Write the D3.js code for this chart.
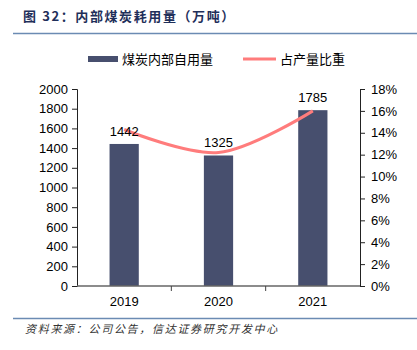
<!DOCTYPE html>
<html>
<head>
<meta charset="utf-8">
<script src="https://cdn.jsdelivr.net/npm/d3@7"></script>
<style>
body { margin: 0; background: #fff; }
text { font-family: "Liberation Sans", Arial, sans-serif; }
.cjk { font-family: "Noto Sans CJK SC", sans-serif; }
</style>
</head>
<body>
<div id="chart"></div>
<script>
{
const years = ['2019', '2020', '2021'];
const usage = [1442, 1325, 1785];
const share = [0.143, 0.122, 0.160];
const leftTicks = [0, 200, 400, 600, 800, 1000, 1200, 1400, 1600, 1800, 2000];
const rightTicks = [0, 0.02, 0.04, 0.06, 0.08, 0.10, 0.12, 0.14, 0.16, 0.18];

const width = 417;
const height = 350;
const margin = {top: 89, right: 57, bottom: 64, left: 77};

let svg = d3.select('#chart')
    .append('svg')
    .attr('width', width)
    .attr('height', height);

// title + rules
svg.append('text')
    .attr('class', 'cjk')
    .attr('x', 23).attr('y', 21)
    .style('font-size', '13px')
    .style('font-weight', 'bold')
    .style('letter-spacing', '1.6px')
    .style('fill', '#1f2f5a')
    .text('图 32：内部煤炭耗用量（万吨）');
svg.append('line')
    .attr('x1', 13).attr('x2', 417).attr('y1', 33.5).attr('y2', 33.5)
    .style('stroke', '#6b8bb3').style('stroke-width', 1.5);
svg.append('line')
    .attr('x1', 13).attr('x2', 417).attr('y1', 318.5).attr('y2', 318.5)
    .style('stroke', '#6b8bb3').style('stroke-width', 1.5);
svg.append('text')
    .attr('class', 'cjk')
    .attr('x', 25).attr('y', 333)
    .style('font-size', '11px')
    .style('font-style', 'italic')
    .style('letter-spacing', '1.7px')
    .style('fill', '#333')
    .text('资料来源：公司公告，信达证券研究开发中心');

let x = d3.scaleBand()
    .domain(years)
    .range([margin.left, width - margin.right])
    .paddingInner(0.69)
    .paddingOuter(0.345);

let y = d3.scaleLinear()
    .domain([0, 2000])
    .range([height - margin.bottom, margin.top]);

let y2 = d3.scaleLinear()
    .domain([0, 0.18])
    .range([height - margin.bottom, margin.top]);

// bars
svg.selectAll('rect.bar').data(usage)
    .enter().append('rect')
    .attr('class', 'bar')
    .attr('x', (d, i) => x(years[i]))
    .attr('y', d => y(d))
    .attr('width', x.bandwidth())
    .attr('height', d => y(0) - y(d))
    .style('fill', '#474f6e');

// left axis
let leftAxis = svg.append('g')
    .attr('transform', `translate(${margin.left},0)`)
    .call(d3.axisLeft(y).tickValues(leftTicks).tickSize(5).tickSizeOuter(5).tickPadding(4)
        .tickFormat(d3.format('d')));
// right axis
let rightAxis = svg.append('g')
    .attr('transform', `translate(${width - margin.right},0)`)
    .call(d3.axisRight(y2).tickValues(rightTicks).tickSize(5).tickSizeOuter(5).tickPadding(6)
        .tickFormat(d => Math.round(d * 100) + '%'));
[leftAxis, rightAxis].forEach(a => {
    a.selectAll('text').style('font-size', '13px').style('fill', '#000')
        .style('font-family', '"Liberation Sans", Arial, sans-serif');
    a.selectAll('line, path').style('stroke', '#222');
});

// bottom axis with ticks between categories
let xBoundaries = d3.scaleLinear().domain([0, 3]).range([margin.left, width - margin.right]);
svg.append('line')
    .attr('x1', margin.left).attr('x2', width - margin.right)
    .attr('y1', y(0)).attr('y2', y(0))
    .style('stroke', '#666').style('stroke-width', 1.5);
svg.selectAll('line.xt').data([1, 2])
    .enter().append('line')
    .attr('class', 'xt')
    .attr('x1', d => xBoundaries(d)).attr('x2', d => xBoundaries(d))
    .attr('y1', y(0)).attr('y2', y(0) + 5)
    .style('stroke', '#444');
svg.selectAll('text.xl').data(years)
    .enter().append('text')
    .attr('class', 'xl')
    .attr('x', d => x(d) + x.bandwidth() / 2)
    .attr('y', y(0) + 20)
    .style('text-anchor', 'middle')
    .style('font-size', '13px')
    .text(d => d);

// share line
let line = d3.line()
    .x((d, i) => x(years[i]) + x.bandwidth() / 2)
    .y(d => y2(d))
    .curve(d3.curveCatmullRom.alpha(0.5));
svg.append('path')
    .datum(share)
    .attr('d', line)
    .style('fill', 'none')
    .style('stroke', '#ff7c7c')
    .style('stroke-width', 3);

// bar labels
svg.selectAll('text.val').data(usage)
    .enter().append('text')
    .attr('class', 'val')
    .attr('x', (d, i) => x(years[i]) + x.bandwidth() / 2)
    .attr('y', d => y(d) - 8)
    .style('text-anchor', 'middle')
    .style('font-size', '13px')
    .text(d => d);

// legend
svg.append('rect')
    .attr('x', 88).attr('y', 56).attr('width', 30).attr('height', 6)
    .style('fill', '#474f6e');
svg.append('text')
    .attr('class', 'cjk')
    .attr('x', 122).attr('y', 64)
    .style('font-size', '13px')
    .text('煤炭内部自用量');
svg.append('line')
    .attr('x1', 243).attr('x2', 276).attr('y1', 59).attr('y2', 59)
    .style('stroke', '#ff7c7c').style('stroke-width', 3);
svg.append('text')
    .attr('class', 'cjk')
    .attr('x', 280).attr('y', 64)
    .style('font-size', '13px')
    .text('占产量比重');
}
</script>
</body>
</html>
